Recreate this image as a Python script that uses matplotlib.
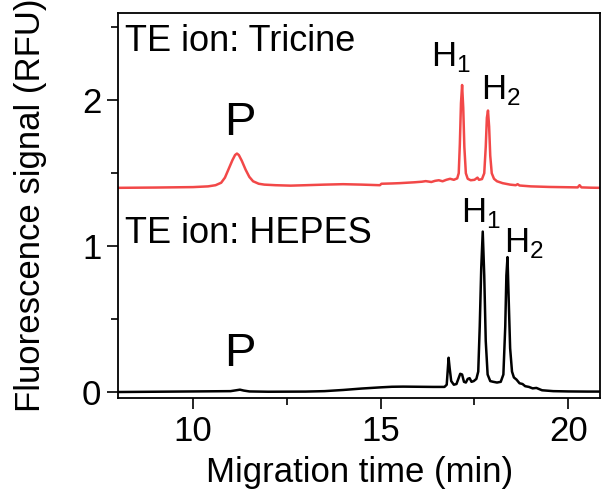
import matplotlib
matplotlib.use("Agg")
import matplotlib.pyplot as plt
from matplotlib.ticker import MultipleLocator

plt.rcParams["font.family"] = ["Liberation Sans", "DejaVu Sans"]
plt.rcParams["mathtext.fontset"] = "custom"
plt.rcParams["mathtext.rm"] = "Liberation Sans"

# Electropherogram: (migration time in min, signal in RFU)
tricine_time = [8.0, 9.0, 10.0, 10.4, 10.6, 10.75, 10.85, 10.95, 11.05, 11.12, 11.17,
                11.22, 11.3, 11.4, 11.5, 11.6, 11.75, 11.9, 12.2, 12.6, 13.0, 13.5,
                14.0, 14.5, 14.98, 15.02, 15.3, 15.5, 15.7, 15.9, 16.1, 16.2, 16.35,
                16.45, 16.55, 16.65, 16.75, 16.85, 16.95, 17.04, 17.08, 17.11, 17.14,
                17.17, 17.2, 17.23, 17.27, 17.32, 17.4, 17.5, 17.58, 17.62, 17.7,
                17.76, 17.8, 17.83, 17.86, 17.89, 17.92, 17.96, 18.02, 18.1, 18.25,
                18.45, 18.6, 18.65, 18.7, 19.0, 19.5, 20.0, 20.25, 20.3, 20.35, 20.6,
                20.85]
tricine_signal = [1.400, 1.402, 1.405, 1.410, 1.418, 1.435, 1.47, 1.53, 1.59, 1.625,
                  1.635, 1.625, 1.585, 1.525, 1.475, 1.445, 1.428, 1.422, 1.418, 1.415,
                  1.418, 1.422, 1.425, 1.422, 1.418, 1.428, 1.43, 1.432, 1.435, 1.438,
                  1.442, 1.446, 1.44, 1.448, 1.452, 1.445, 1.455, 1.462, 1.455, 1.465,
                  1.50, 1.70, 1.98, 2.105, 1.95, 1.68, 1.50, 1.462, 1.452, 1.455,
                  1.47, 1.455, 1.46, 1.50, 1.68, 1.88, 1.93, 1.82, 1.62, 1.50, 1.462,
                  1.445, 1.432, 1.422, 1.418, 1.425, 1.416, 1.41, 1.406, 1.404, 1.403,
                  1.418, 1.403, 1.401, 1.400]

hepes_time = [8.0, 9.0, 10.0, 11.0, 11.15, 11.25, 11.35, 11.5, 12.0, 13.0, 13.5,
              14.0, 14.5, 15.0, 15.3, 15.6, 16.0, 16.4, 16.7, 16.76, 16.79, 16.81,
              16.84, 16.88, 16.95, 17.02, 17.07, 17.12, 17.17, 17.22, 17.27, 17.32,
              17.37, 17.42, 17.48, 17.55, 17.6, 17.64, 17.68, 17.72, 17.76, 17.8,
              17.85, 17.92, 18.0, 18.1, 18.2, 18.27, 18.32, 18.35, 18.38, 18.41,
              18.45, 18.5, 18.55, 18.62, 18.7, 18.78, 18.85, 18.95, 19.05, 19.15,
              19.3, 19.6, 20.0, 20.5, 20.85]
hepes_signal = [0.000, 0.002, 0.004, 0.006, 0.012, 0.016, 0.010, 0.004, 0.002, 0.003,
                0.006, 0.014, 0.024, 0.032, 0.036, 0.037, 0.036, 0.035, 0.035, 0.05,
                0.16, 0.235, 0.16, 0.075, 0.05, 0.055, 0.09, 0.125, 0.12, 0.07, 0.065,
                0.09, 0.095, 0.07, 0.075, 0.09, 0.14, 0.45, 0.85, 1.10, 0.80, 0.35,
                0.12, 0.075, 0.07, 0.065, 0.07, 0.12, 0.45, 0.80, 0.925, 0.65, 0.30,
                0.14, 0.10, 0.085, 0.06, 0.055, 0.04, 0.035, 0.025, 0.028, 0.012,
                0.006, 0.004, 0.003, 0.003]

red = "#F24848"


def main():
    fig = plt.figure(figsize=(6.02, 4.93), dpi=100)
    ax = fig.add_axes([0.196, 0.193, 0.801, 0.781])

    ax.plot(tricine_time, tricine_signal, color=red, lw=1.8)
    ax.plot(hepes_time, hepes_signal, color="black", lw=1.8)

    ax.set_xlim(8.0, 20.85)
    ax.set_ylim(-0.04, 2.6)
    ax.xaxis.set_major_locator(MultipleLocator(5))
    ax.xaxis.set_minor_locator(MultipleLocator(2.5))
    ax.yaxis.set_major_locator(MultipleLocator(1))
    ax.yaxis.set_minor_locator(MultipleLocator(0.5))
    ax.tick_params(which="both", direction="out", width=1.2, labelsize=25, pad=4)
    ax.tick_params(which="major", length=8)
    ax.tick_params(which="minor", length=5)
    for s in ax.spines.values():
        s.set_linewidth(1.3)

    ax.set_xlabel("Migration time (min)", fontsize=25, labelpad=6)
    ax.set_ylabel("Fluorescence signal (RFU)", fontsize=25, labelpad=25)

    ax.text(8.19, 2.34, "TE ion: Tricine", fontsize=26, va="baseline", ha="left")
    ax.text(8.19, 1.02, "TE ion: HEPES", fontsize=26, va="baseline", ha="left")

    ax.text(11.24, 1.76, "P", fontsize=34, ha="center", va="baseline")
    ax.text(11.24, 0.176, "P", fontsize=34, ha="center", va="baseline")

    sub1 = "H$_\\mathregular{1}$"
    sub2 = "H$_\\mathregular{2}$"
    ax.text(16.35, 2.237, sub1, fontsize=25, ha="left", va="baseline")
    ax.text(17.68, 2.01, sub2, fontsize=25, ha="left", va="baseline")
    ax.text(17.15, 1.165, sub1, fontsize=25, ha="left", va="baseline")
    ax.text(18.29, 0.96, sub2, fontsize=25, ha="left", va="baseline")

    fig.savefig("out.png", dpi=100)
    plt.close(fig)


if __name__ == "__main__":
    main()
